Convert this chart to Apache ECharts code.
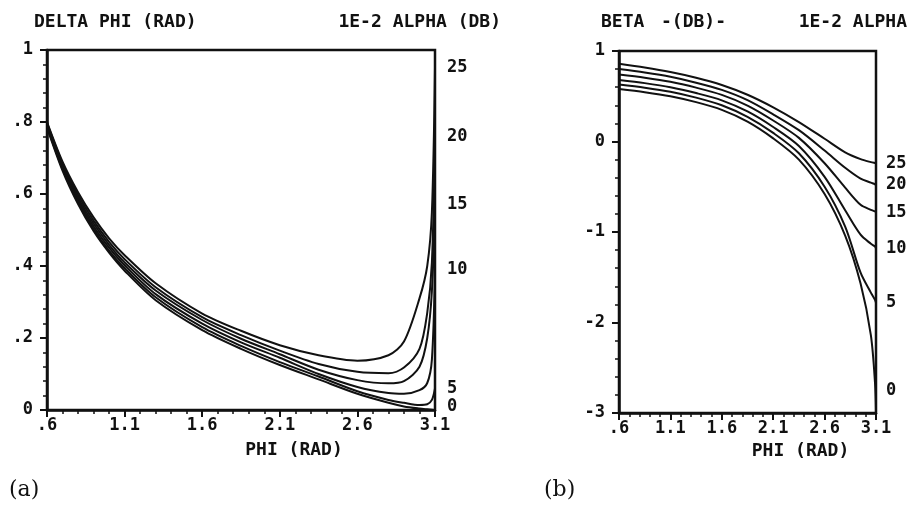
<!DOCTYPE html>
<html>
<head>
<meta charset="utf-8">
<script src="https://cdn.jsdelivr.net/npm/echarts@6/dist/echarts.min.js"></script>
<style>
  html, body { margin: 0; padding: 0; background: #fff; }
  #chart { width: 914px; height: 506px; }
</style>
</head>
<body>
<div id="chart"></div>
<script>
// ---- data ----
const alphaLabels = ['0', '5', '10', '15', '20', '25']   // 1E-2 alpha (dB), curve labels
const phiTicks = [0.6, 1.1, 1.6, 2.1, 2.6, 3.1]

// (a) delta phi vs phi
const phiA = [0.6, 0.7, 0.8, 0.9, 1.0, 1.1, 1.3, 1.6, 1.85, 2.1, 2.35, 2.6, 2.8, 2.9, 3.0, 3.05, 3.08, 3.1]
const dPhi0  = [0.785, 0.665, 0.572, 0.497, 0.437, 0.387, 0.305, 0.222, 0.17, 0.125, 0.085, 0.045, 0.02, 0.01, 0.004, 0.002, 0.001, 0.0]
const dPhi5  = [0.788, 0.67, 0.578, 0.503, 0.443, 0.394, 0.313, 0.23, 0.178, 0.133, 0.093, 0.052, 0.028, 0.02, 0.014, 0.016, 0.028, 0.06]
const dPhi10 = [0.79, 0.675, 0.584, 0.51, 0.451, 0.402, 0.322, 0.24, 0.188, 0.145, 0.10, 0.064, 0.047, 0.045, 0.055, 0.075, 0.14, 0.39]
const dPhi15 = [0.795, 0.68, 0.59, 0.518, 0.459, 0.41, 0.332, 0.25, 0.198, 0.155, 0.112, 0.083, 0.074, 0.08, 0.12, 0.20, 0.33, 0.57]
const dPhi20 = [0.798, 0.685, 0.597, 0.526, 0.467, 0.419, 0.341, 0.258, 0.208, 0.165, 0.128, 0.106, 0.102, 0.118, 0.17, 0.27, 0.41, 0.76]
const dPhi25 = [0.80, 0.69, 0.605, 0.535, 0.477, 0.43, 0.352, 0.268, 0.22, 0.18, 0.152, 0.137, 0.152, 0.19, 0.31, 0.40, 0.55, 0.95]

// (b) beta vs phi
const phiB = [0.6, 0.85, 1.1, 1.35, 1.6, 1.85, 2.1, 2.35, 2.6, 2.8, 2.95, 3.05, 3.09, 3.1]
const beta0  = [0.58, 0.545, 0.50, 0.435, 0.35, 0.22, 0.035, -0.20, -0.58, -1.04, -1.57, -2.14, -2.66, -3.0]
const beta5  = [0.63, 0.595, 0.55, 0.485, 0.40, 0.272, 0.095, -0.13, -0.50, -0.94, -1.45, -1.67, -1.75, -1.78]
const beta10 = [0.68, 0.645, 0.60, 0.535, 0.455, 0.332, 0.16, -0.05, -0.39, -0.76, -1.03, -1.13, -1.16, -1.18]
const beta15 = [0.74, 0.705, 0.66, 0.595, 0.515, 0.397, 0.232, 0.04, -0.24, -0.51, -0.70, -0.755, -0.772, -0.78]
const beta20 = [0.80, 0.762, 0.715, 0.65, 0.57, 0.457, 0.30, 0.125, -0.10, -0.29, -0.41, -0.455, -0.472, -0.48]
const beta25 = [0.86, 0.818, 0.768, 0.705, 0.625, 0.517, 0.378, 0.215, 0.03, -0.12, -0.195, -0.228, -0.238, -0.24]

const dPhiCurves = [dPhi0, dPhi5, dPhi10, dPhi15, dPhi20, dPhi25]
const betaCurves = [beta0, beta5, beta10, beta15, beta20, beta25]

// ---- styling ----
const INK = '#111'
const MONO = 'DejaVu Sans Mono'
const txt = { fontFamily: MONO, fontWeight: 'bold', fontSize: 17, color: INK }

function plotterNum(v) {
  let s = String(+(+v).toFixed(1))
  return s.replace(/^0\./, '.').replace(/^-0\./, '-.')
}

function mainX(grid, nameGap) {
  return {
    type: 'value', gridIndex: grid, min: 0.6, max: 3.1, position: 'bottom',
    axisLine: { onZero: false, lineStyle: { color: INK, width: 2.5 } },
    axisTick: { customValues: phiTicks, length: 7, lineStyle: { color: INK, width: 2 } },
    axisLabel: Object.assign({ customValues: phiTicks, formatter: plotterNum, margin: 7 }, txt),
    splitLine: { show: false },
    name: 'PHI (RAD)', nameLocation: 'middle', nameGap: nameGap,
    nameTextStyle: Object.assign({ padding: [0, 0, 0, 106] }, txt, { fontSize: 18 })
  }
}
function minorX(grid) {
  return {
    type: 'value', gridIndex: grid, min: 0.6, max: 3.1, interval: 0.1, position: 'bottom',
    axisLine: { show: false, onZero: false },
    axisTick: { length: 4, lineStyle: { color: INK, width: 1.5 } },
    axisLabel: { show: false }, splitLine: { show: false }
  }
}
function yAx(grid, min, max, interval) {
  return {
    type: 'value', gridIndex: grid, min: min, max: max, interval: interval,
    axisLine: { show: true, onZero: false, lineStyle: { color: INK, width: 2.5 } },
    axisTick: { show: true, length: 7, lineStyle: { color: INK, width: 2 } },
    minorTick: { show: true, splitNumber: 5, length: 4, lineStyle: { color: INK, width: 1.5 } },
    axisLabel: Object.assign({ formatter: plotterNum, margin: 14 }, txt),
    splitLine: { show: false }
  }
}

// per-curve end label nudges (px)
const endOffsetA = [[0, -3], [0, 0], [0, 0], [0, 0], [0, 0], [0, 0]]
const endOffsetB = [[0, -22], [0, 0], [0, 0], [0, 0], [0, 0], [0, 0]]

function curveSeries(xs, curves, axisIdx, yIdx, dist, offsets) {
  return curves.map((ys, i) => ({
    name: alphaLabels[i], type: 'line',
    xAxisIndex: axisIdx, yAxisIndex: yIdx,
    data: xs.map((x, k) => [x, ys[k]]),
    symbol: 'none', smooth: 0.3, silent: true,
    lineStyle: { color: INK, width: 2 },
    endLabel: Object.assign({ show: true, formatter: '{a}', distance: dist, offset: offsets[i] }, txt)
  }))
}

const titleText = (text, pos, style) => Object.assign({ text: text, textStyle: Object.assign({}, txt, { fontSize: 18 }, style || {}) }, pos)

const option = {
  animation: false,
  backgroundColor: '#fff',
  title: [
    titleText('DELTA PHI (RAD)', { left: 29, top: 8 }),
    titleText('1E-2 ALPHA (DB)', { right: 408, top: 8 }),
    titleText('BETA', { left: 596, top: 8 }),
    titleText('-(DB)-', { left: 656, top: 8 }),
    titleText('1E-2 ALPHA', { right: 2, top: 8 }),
    titleText('(a)', { left: 4, top: 474 }, { fontFamily: 'DejaVu Serif', fontWeight: 'normal', fontSize: 22 }),
    titleText('(b)', { left: 539, top: 474 }, { fontFamily: 'DejaVu Serif', fontWeight: 'normal', fontSize: 22 })
  ],
  grid: [
    { left: 47, right: 479, top: 50, bottom: 96, show: true, borderColor: INK, borderWidth: 2.5 },
    { left: 619, right: 38, top: 51, bottom: 93, show: true, borderColor: INK, borderWidth: 2.5 }
  ],
  xAxis: [mainX(0, 31), minorX(0), mainX(1, 27), minorX(1)],
  yAxis: [yAx(0, 0, 1, 0.2), yAx(1, -3, 1, 1)],
  series: [].concat(
    curveSeries(phiA, dPhiCurves, 0, 0, 12, endOffsetA),
    curveSeries(phiB, betaCurves, 2, 1, 10, endOffsetB)
  )
}

const chart = echarts.init(document.getElementById('chart'))
chart.setOption(option)
</script>
</body>
</html>
